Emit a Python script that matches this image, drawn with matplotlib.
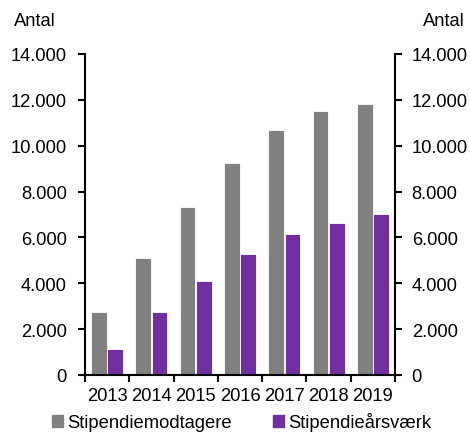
import numpy as np
import matplotlib.pyplot as plt
from matplotlib.patches import Patch
from matplotlib.ticker import FuncFormatter

plt.rcParams['font.family'] = ['Liberation Sans', 'DejaVu Sans']
plt.rcParams['font.size'] = 13.2

years = ['2013', '2014', '2015', '2016', '2017', '2018', '2019']
modtagere = [2760, 5120, 7330, 9260, 10700, 11520, 11820]
aarsvaerk = [1140, 2740, 4100, 5280, 6140, 6630, 7040]

GRAY = '#808080'
PURPLE = '#7030A0'

fig = plt.figure(figsize=(4.7, 4.35), dpi=100)
ax = fig.add_axes([85 / 470, 1 - 376 / 435, 310 / 470, 321 / 435])

x = np.arange(len(years))
w = 0.355
ax.bar(x - w / 2 - 0.005, modtagere, width=w, color=GRAY, edgecolor='white', linewidth=0.6)
ax.bar(x + w / 2 + 0.005, aarsvaerk, width=w, color=PURPLE, edgecolor='white', linewidth=0.6)

ax.set_xlim(-0.5, len(years) - 0.5)
ax.set_ylim(0, 14000)
ax.set_yticks(np.arange(0, 14001, 2000))

fmt = FuncFormatter(lambda v, p: f'{int(v):,}'.replace(',', '.'))
ax.yaxis.set_major_formatter(fmt)

# category boundaries as ticks, labels centred between them
ax.set_xticks(np.arange(-0.5, len(years), 1.0))
ax.set_xticklabels([])
ax.set_xticks(x, minor=True)
ax.set_xticklabels(years, minor=True)
ax.tick_params(axis='x', which='minor', length=0, pad=9)
ax.tick_params(axis='x', which='major', length=5, width=1.5, direction='out')
ax.tick_params(axis='y', length=5, width=1.5, direction='out', pad=8)

for s in ['top', 'right']:
    ax.spines[s].set_visible(False)
for s in ['left', 'bottom']:
    ax.spines[s].set_linewidth(1.5)

ax2 = ax.twinx()
ax2.set_ylim(0, 14000)
ax2.set_yticks(np.arange(0, 14001, 2000))
ax2.yaxis.set_major_formatter(fmt)
ax2.tick_params(axis='y', length=5, width=1.5, direction='out', pad=7)
for s in ['top', 'left', 'bottom']:
    ax2.spines[s].set_visible(False)
ax2.spines['right'].set_linewidth(1.5)

fig.text(14 / 470, 1 - 21 / 435, 'Antal', ha='left', va='center')
fig.text(465 / 470, 1 - 21 / 435, 'Antal', ha='right', va='center')

handles = [Patch(color=GRAY, label='Stipendiemodtagere'),
           Patch(color=PURPLE, label='Stipendieårsværk')]
fig.legend(handles=handles, loc='center left', bbox_to_anchor=(52 / 470, 1 - 423 / 435),
           ncol=2, frameon=False, handlelength=0.6, handleheight=0.6, handletextpad=0.25,
           columnspacing=2.2, borderpad=0, borderaxespad=0)

fig.savefig('out.png', dpi=100)
